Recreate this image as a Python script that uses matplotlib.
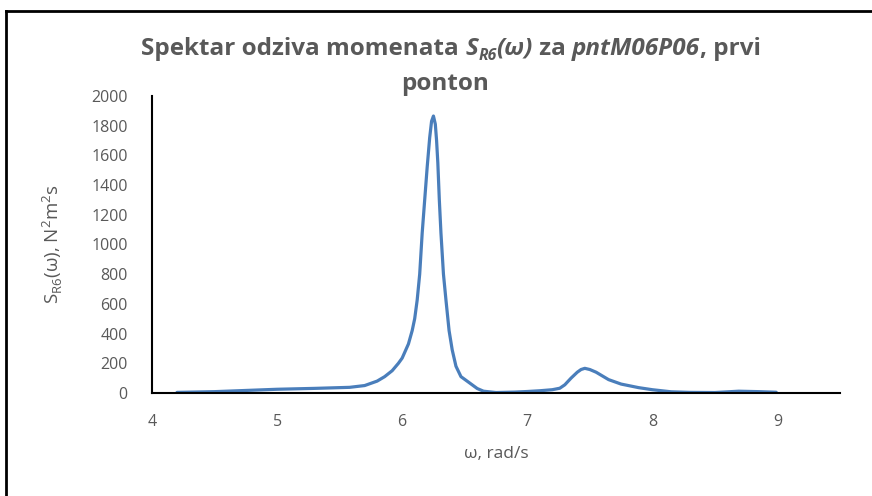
import matplotlib
matplotlib.use("Agg")
import matplotlib.pyplot as plt
from matplotlib.lines import Line2D

# values
omega = [4.2, 4.5, 5.0, 5.3, 5.58, 5.7, 5.8, 5.86, 5.92, 5.97, 6.0, 6.05,
         6.08, 6.10, 6.12, 6.14, 6.16, 6.18, 6.20, 6.22, 6.235, 6.25, 6.265,
         6.275, 6.285, 6.297, 6.31, 6.33, 6.35, 6.375, 6.40, 6.43, 6.47, 6.54,
         6.60, 6.65, 6.75, 6.9, 7.0, 7.1, 7.2, 7.26, 7.3, 7.35, 7.40, 7.43,
         7.46, 7.5, 7.55, 7.6, 7.65, 7.75, 7.89, 8.0, 8.15, 8.3, 8.5, 8.69,
         8.85, 8.99]
s_r6 = [4, 9, 25, 31, 38, 50, 80, 110, 150, 200, 235, 330,
        420, 500, 626, 800, 1077, 1300, 1522, 1720, 1830, 1865, 1810,
        1700, 1550, 1300, 1077, 800, 626, 420, 290, 180, 110, 67,
        30, 12, 3, 6, 10, 15, 22, 32, 55, 100, 140, 158,
        166, 158, 140, 115, 90, 60, 36, 22, 8, 4, 3, 12,
        9, 5]

x_ticks = [4, 5, 6, 7, 8, 9]
y_ticks = list(range(0, 2001, 200))

gray = "#595959"
plt.rcParams["font.family"] = ["Open Sans", "DejaVu Sans"]

fig = plt.figure(figsize=(8.72, 4.96), dpi=100)
ax = fig.add_axes([0.1743, 0.2077, 0.789, 0.5988])

ax.plot(omega, s_r6, color="#4A7EBB", lw=2.3, solid_joinstyle="round",
        solid_capstyle="round")

ax.set_xlim(4, 9.5)
ax.set_ylim(0, 2000)
ax.set_xticks(x_ticks)
ax.set_yticks(y_ticks)
ax.tick_params(length=0, labelsize=11.5, colors=gray)
ax.tick_params(axis="y", pad=17.5)
ax.tick_params(axis="x", pad=15)
for side in ("top", "right"):
    ax.spines[side].set_visible(False)
for side in ("left", "bottom"):
    ax.spines[side].set_color("black")
    ax.spines[side].set_linewidth(1.5)

ax.set_xlabel("ω, rad/s", fontsize=12.5, color=gray, labelpad=12)
ax.set_ylabel(r"S$_{\mathregular{R6}}$(ω), N$^{\mathregular{2}}$m$^{\mathregular{2}}$s",
              fontsize=13.5, color=gray, labelpad=19)

# title line 1: mixed upright / italic pieces laid out one after another
size = 17.5
pieces = [("Spektar odziva momenata ", "normal", size, 0),
          ("S", "italic", size, 0),
          ("R6", "italic", size * 0.65, -5),
          ("(ω)", "italic", size, 0),
          (" za ", "normal", size, 0),
          ("pntM06P06", "italic", size, 0),
          (", prvi", "normal", size, 0)]
renderer = fig.canvas.get_renderer()
texts = []
x = 0
for s, style, fs, dy in pieces:
    t = fig.text(0, 0, s, fontsize=fs, fontweight="bold", style=style,
                 color=gray, ha="left", va="baseline")
    w = t.get_window_extent(renderer).width
    texts.append((t, x, dy))
    x += w
left = 451 - x / 2
for t, off, dy in texts:
    t.set_position(((left + off) / 872, (496 - 55 + dy) / 496))

fig.text(445 / 872, (496 - 90) / 496, "ponton", ha="center", va="baseline",
         fontsize=size, fontweight="bold", color=gray)

# chart border (top and left edges visible in the screenshot)
fig.add_artist(Line2D([0.007, 0.007], [0, 0.978], transform=fig.transFigure,
                      color="black", lw=2))
fig.add_artist(Line2D([0.007, 1.0], [0.978, 0.978], transform=fig.transFigure,
                      color="black", lw=2))

fig.savefig("out.png", dpi=100)
